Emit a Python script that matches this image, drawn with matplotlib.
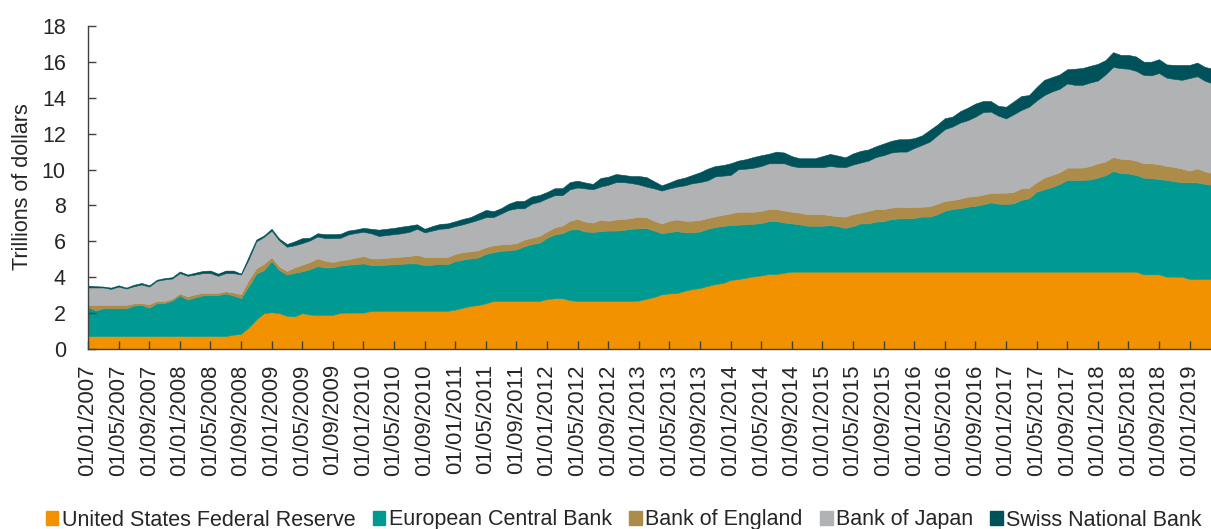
import matplotlib
matplotlib.use("Agg")
import matplotlib.pyplot as plt
from matplotlib.patches import Patch
import numpy as np

plt.rcParams['font.family'] = ['Liberation Sans', 'DejaVu Sans']

# Monthly data, Jan 2007 onwards (trillions of dollars)
fed = [0.72, 0.72, 0.72, 0.72, 0.72, 0.72, 0.72, 0.72, 0.72, 0.72,
       0.72, 0.72, 0.72, 0.72, 0.72, 0.72, 0.72, 0.72, 0.72, 0.80,
       0.85, 1.20, 1.65, 2.00, 2.05, 2.00, 1.85, 1.82, 2.00, 1.92,
       1.90, 1.90, 1.90, 2.02, 2.03, 2.03, 2.03, 2.12, 2.13, 2.13,
       2.13, 2.13, 2.13, 2.13, 2.13, 2.13, 2.13, 2.13, 2.20, 2.30,
       2.40, 2.45, 2.55, 2.68, 2.68, 2.68, 2.68, 2.68, 2.68, 2.68,
       2.78, 2.83, 2.83, 2.72, 2.68, 2.68, 2.68, 2.68, 2.68, 2.68,
       2.68, 2.68, 2.70, 2.80, 2.90, 3.05, 3.10, 3.12, 3.25, 3.34,
       3.40, 3.52, 3.62, 3.68, 3.85, 3.90, 3.97, 4.05, 4.10, 4.18,
       4.18, 4.25, 4.31, 4.31, 4.31, 4.31, 4.31, 4.31, 4.31, 4.31,
       4.31, 4.31, 4.31, 4.31, 4.31, 4.31, 4.31, 4.31, 4.31, 4.31,
       4.31, 4.31, 4.31, 4.31, 4.31, 4.31, 4.31, 4.31, 4.31, 4.31,
       4.31, 4.31, 4.31, 4.31, 4.31, 4.31, 4.31, 4.31, 4.31, 4.31,
       4.31, 4.31, 4.31, 4.31, 4.31, 4.31, 4.31, 4.31, 4.16, 4.16,
       4.16, 4.03, 4.03, 4.03, 3.90, 3.90, 3.90, 3.90]

ecb = [1.63, 1.43, 1.55, 1.55, 1.55, 1.55, 1.70, 1.73, 1.58, 1.84,
       1.84, 1.98, 2.27, 2.03, 2.16, 2.27, 2.28, 2.28, 2.38, 2.18,
       1.99, 2.30, 2.55, 2.40, 2.85, 2.40, 2.30, 2.43, 2.33, 2.53,
       2.72, 2.65, 2.65, 2.63, 2.67, 2.69, 2.74, 2.56, 2.55, 2.57,
       2.59, 2.62, 2.64, 2.64, 2.55, 2.57, 2.62, 2.59, 2.70, 2.68,
       2.65, 2.65, 2.75, 2.72, 2.79, 2.82, 2.87, 3.04, 3.17, 3.24,
       3.42, 3.55, 3.62, 3.93, 4.00, 3.87, 3.84, 3.89, 3.92, 3.92,
       3.96, 4.02, 4.03, 3.93, 3.70, 3.40, 3.42, 3.45, 3.25, 3.16,
       3.15, 3.18, 3.18, 3.18, 3.06, 3.03, 2.98, 2.93, 2.92, 2.94,
       2.95, 2.80, 2.69, 2.64, 2.56, 2.56, 2.56, 2.59, 2.54, 2.44,
       2.54, 2.69, 2.69, 2.79, 2.81, 2.93, 2.97, 2.97, 2.99, 3.07,
       3.07, 3.19, 3.40, 3.49, 3.54, 3.62, 3.67, 3.75, 3.86, 3.79,
       3.77, 3.81, 4.00, 4.09, 4.46, 4.59, 4.72, 4.89, 5.11, 5.11,
       5.11, 5.14, 5.24, 5.37, 5.61, 5.49, 5.47, 5.39, 5.39, 5.36,
       5.31, 5.39, 5.32, 5.26, 5.39, 5.38, 5.30, 5.25]

boe = [0.11, 0.31, 0.19, 0.19, 0.19, 0.19, 0.13, 0.10, 0.20, 0.12,
       0.12, 0.10, 0.11, 0.18, 0.17, 0.14, 0.13, 0.13, 0.12, 0.17,
       0.21, 0.35, 0.30, 0.35, 0.22, 0.20, 0.20, 0.30, 0.37, 0.40,
       0.43, 0.37, 0.30, 0.30, 0.30, 0.38, 0.41, 0.37, 0.37, 0.38,
       0.40, 0.40, 0.41, 0.48, 0.45, 0.43, 0.38, 0.41, 0.40, 0.42,
       0.40, 0.40, 0.38, 0.38, 0.36, 0.35, 0.35, 0.38, 0.35, 0.38,
       0.35, 0.40, 0.43, 0.50, 0.57, 0.55, 0.53, 0.63, 0.55, 0.62,
       0.61, 0.60, 0.64, 0.62, 0.55, 0.55, 0.63, 0.65, 0.65, 0.65,
       0.65, 0.60, 0.60, 0.62, 0.65, 0.72, 0.70, 0.67, 0.68, 0.68,
       0.67, 0.67, 0.65, 0.65, 0.65, 0.65, 0.65, 0.55, 0.55, 0.63,
       0.67, 0.60, 0.70, 0.70, 0.68, 0.64, 0.65, 0.62, 0.62, 0.55,
       0.57, 0.60, 0.54, 0.50, 0.53, 0.56, 0.54, 0.54, 0.53, 0.61,
       0.63, 0.63, 0.65, 0.58, 0.53, 0.65, 0.67, 0.65, 0.69, 0.69,
       0.69, 0.75, 0.80, 0.77, 0.78, 0.80, 0.80, 0.80, 0.80, 0.83,
       0.83, 0.78, 0.80, 0.76, 0.65, 0.79, 0.70, 0.65]

boj = [0.97, 0.97, 0.97, 0.89, 1.02, 0.91, 0.95, 1.05, 0.98, 1.12,
       1.20, 1.13, 1.13, 1.15, 1.10, 1.10, 1.10, 0.95, 1.01, 1.08,
       1.10, 1.15, 1.50, 1.50, 1.48, 1.45, 1.35, 1.23, 1.20, 1.20,
       1.22, 1.26, 1.33, 1.25, 1.38, 1.37, 1.35, 1.40, 1.25, 1.27,
       1.28, 1.30, 1.35, 1.45, 1.37, 1.47, 1.57, 1.60, 1.55, 1.55,
       1.62, 1.70, 1.67, 1.57, 1.72, 1.90, 1.94, 1.74, 1.90, 1.91,
       1.85, 1.79, 1.69, 1.75, 1.75, 1.85, 1.85, 1.85, 2.00, 2.08,
       2.05, 1.95, 1.80, 1.70, 1.80, 1.83, 1.80, 1.83, 1.97, 2.09,
       2.10, 2.10, 2.22, 2.18, 2.14, 2.37, 2.40, 2.45, 2.50, 2.55,
       2.55, 2.63, 2.55, 2.53, 2.61, 2.61, 2.61, 2.75, 2.75, 2.75,
       2.76, 2.79, 2.80, 2.90, 3.00, 3.07, 3.07, 3.10, 3.28, 3.44,
       3.60, 3.80, 4.00, 4.10, 4.24, 4.26, 4.43, 4.60, 4.53, 4.29,
       4.14, 4.33, 4.36, 4.52, 4.55, 4.60, 4.65, 4.65, 4.69, 4.61,
       4.61, 4.65, 4.61, 4.85, 5.02, 5.05, 5.04, 5.00, 4.92, 4.90,
       5.08, 4.92, 4.90, 4.95, 5.16, 5.13, 5.05, 5.00]

snb = [0.10, 0.07, 0.05, 0.07, 0.07, 0.05, 0.08, 0.08, 0.07, 0.06,
       0.07, 0.07, 0.09, 0.07, 0.10, 0.12, 0.14, 0.12, 0.14, 0.14,
       0.05, 0.15, 0.10, 0.08, 0.10, 0.10, 0.15, 0.22, 0.28, 0.15,
       0.18, 0.22, 0.22, 0.22, 0.22, 0.19, 0.22, 0.25, 0.35, 0.35,
       0.35, 0.37, 0.35, 0.25, 0.20, 0.25, 0.27, 0.27, 0.27, 0.30,
       0.28, 0.35, 0.40, 0.33, 0.30, 0.35, 0.41, 0.41, 0.40, 0.37,
       0.35, 0.39, 0.39, 0.40, 0.38, 0.33, 0.30, 0.48, 0.45, 0.45,
       0.40, 0.39, 0.47, 0.53, 0.40, 0.29, 0.33, 0.40, 0.43, 0.46,
       0.55, 0.65, 0.58, 0.59, 0.65, 0.48, 0.53, 0.60, 0.60, 0.53,
       0.65, 0.60, 0.55, 0.50, 0.50, 0.50, 0.62, 0.67, 0.63, 0.55,
       0.62, 0.65, 0.62, 0.60, 0.65, 0.65, 0.69, 0.69, 0.55, 0.53,
       0.65, 0.60, 0.61, 0.55, 0.63, 0.70, 0.73, 0.62, 0.59, 0.55,
       0.65, 0.72, 0.78, 0.65, 0.75, 0.85, 0.80, 0.80, 0.79, 0.90,
       0.94, 0.93, 0.93, 0.80, 0.82, 0.74, 0.77, 0.80, 0.74, 0.76,
       0.77, 0.74, 0.78, 0.83, 0.73, 0.76, 0.77, 0.82]

series_names = ["United States Federal Reserve", "European Central Bank",
                "Bank of England", "Bank of Japan", "Swiss National Bank"]
colors = ["#F39200", "#009A93", "#AD8C4A", "#B1B2B4", "#00525A"]

tick_labels = ["01/01/2007", "01/05/2007", "01/09/2007",
               "01/01/2008", "01/05/2008", "01/09/2008",
               "01/01/2009", "01/05/2009", "01/09/2009",
               "01/01/2010", "01/05/2010", "01/09/2010",
               "01/01/2011", "01/05/2011", "01/09/2011",
               "01/01/2012", "01/05/2012", "01/09/2012",
               "01/01/2013", "01/05/2013", "01/09/2013",
               "01/01/2014", "01/05/2014", "01/09/2014",
               "01/01/2015", "01/05/2015", "01/09/2015",
               "01/01/2016", "01/05/2016", "01/09/2016",
               "01/01/2017", "01/05/2017", "01/09/2017",
               "01/01/2018", "01/05/2018", "01/09/2018",
               "01/01/2019"]

text_color = "#262626"

fig = plt.figure(figsize=(12.11, 5.29), dpi=100)
ax = fig.add_axes([88 / 1211, 1 - 349 / 529, 1 - 88 / 1211, (349 - 26) / 529])

x = np.arange(len(fed))
polys = ax.stackplot(x, fed, ecb, boe, boj, snb, colors=colors,
                     labels=series_names, linewidth=0.4)
for p, c in zip(polys, colors):
    p.set_edgecolor(c)

ax.set_xlim(0, 146.8)
ax.set_ylim(0, 18)
ax.set_yticks(np.arange(0, 19, 2))
ax.set_xticks(np.arange(0, 4 * len(tick_labels), 4))
ax.set_xticklabels(tick_labels, rotation=90)

for s in ["top", "right"]:
    ax.spines[s].set_visible(False)
ax.spines["left"].set_color("#404040")
ax.spines["bottom"].set_color("#404040")
ax.spines["left"].set_linewidth(1.0)
ax.spines["bottom"].set_linewidth(1.0)

ax.tick_params(axis="y", direction="in", length=6, width=1, color="#404040",
               labelsize=15.5, labelcolor=text_color, pad=16)
ax.tick_params(axis="x", direction="in", length=6, width=1, color="#404040",
               labelsize=16, labelcolor=text_color, pad=11)

fig.text(23 / 1211, 1 - 187 / 529, "Trillions of dollars", rotation=90,
         ha="center", va="center", fontsize=15.5, color=text_color)

handles = [Patch(facecolor=c, edgecolor=c) for c in colors]
fig.legend(handles, series_names, loc="center", ncol=5,
           bbox_to_anchor=(0.515, 1 - 520 / 529), frameon=False,
           fontsize=15.5, handlelength=0.6, handleheight=0.6,
           handletextpad=0.15, columnspacing=0.8, labelcolor=text_color,
           borderpad=0, borderaxespad=0)

fig.savefig("out.png", dpi=100)
